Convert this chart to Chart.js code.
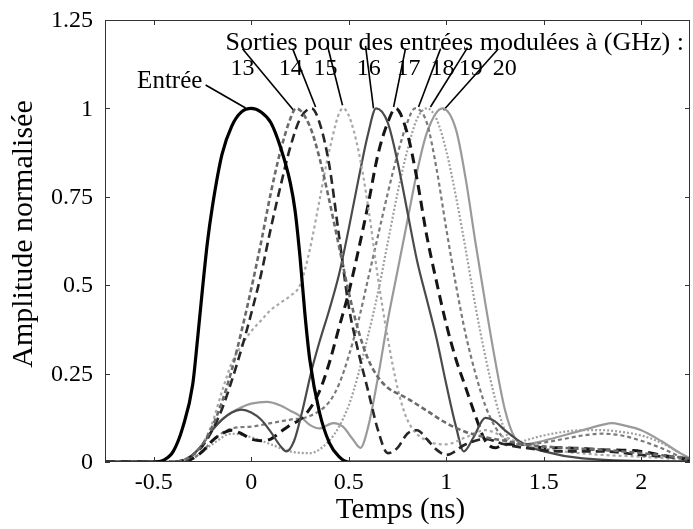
<!DOCTYPE html>
<html><head><meta charset="utf-8">
<script src="https://cdn.jsdelivr.net/npm/chart.js@4"></script>
<style>html,body{margin:0;padding:0;background:#fff}#wrap{width:693px;height:529px}</style>
</head><body><div id="wrap"><canvas id="c" width="693" height="529"></canvas></div>
<script>
// ---- axis ticks ----
const xTicks = [-0.5, 0, 0.5, 1, 1.5, 2];
const yTicks = [0, 0.25, 0.5, 0.75, 1, 1.25];

// ---- input pulse (Entrée) ----
const entreeT = [-0.75,-0.5,-0.45,-0.4,-0.35,-0.3,-0.275,-0.25,-0.225,-0.2,-0.15,-0.1,-0.05,0,0.05,0.1,0.15,0.2,0.225,0.25,0.275,0.3,0.35,0.4,0.45,0.5,2.25];
const entreeV = [0,0,0.005,0.03,0.1,0.22,0.35,0.49,0.62,0.72,0.87,0.95,0.99,1,0.99,0.96,0.89,0.79,0.71,0.58,0.42,0.29,0.14,0.055,0.015,0,0];

// ---- outputs, 13 .. 20 GHz ----
const t13 = [-0.75,-0.4,-0.35,-0.3,-0.25,-0.2,-0.15,-0.1,-0.05,0,0.05,0.1,0.15,0.2,0.23,0.3,0.35,0.4,0.45,0.5,0.55,0.6,0.65,0.7,0.8,0.9,1.0,1.1,1.2,1.3,1.4,1.6,1.8,2.0,2.25];
const v13 = [0,0,0.005,0.02,0.05,0.1,0.17,0.26,0.37,0.49,0.62,0.76,0.88,0.97,1.0,0.95,0.86,0.74,0.61,0.48,0.37,0.29,0.24,0.21,0.18,0.145,0.11,0.085,0.07,0.06,0.05,0.04,0.035,0.025,0.01];

const t14 = [-0.75,-0.4,-0.35,-0.3,-0.25,-0.2,-0.15,-0.1,-0.05,0,0.05,0.1,0.15,0.2,0.25,0.31,0.35,0.4,0.45,0.5,0.55,0.6,0.65,0.7,0.75,0.8,0.85,0.9,0.95,1.0,1.1,1.2,1.3,1.4,1.6,1.8,2.0,2.25];
const v14 = [0,0,0.005,0.02,0.045,0.09,0.15,0.23,0.32,0.42,0.53,0.66,0.78,0.89,0.97,1.0,0.96,0.84,0.64,0.44,0.31,0.2,0.09,0.025,0.04,0.08,0.09,0.065,0.035,0.02,0.05,0.065,0.05,0.04,0.03,0.03,0.02,0.01];

const t15 = [-0.75,-0.4,-0.35,-0.3,-0.25,-0.2,-0.15,-0.1,-0.05,0,0.05,0.1,0.15,0.2,0.25,0.3,0.35,0.4,0.47,0.5,0.55,0.6,0.65,0.7,0.75,0.8,0.9,1.0,1.1,1.2,1.3,1.4,1.6,1.8,2.0,2.25];
const v15 = [0,0,0.005,0.02,0.05,0.11,0.2,0.28,0.33,0.37,0.4,0.43,0.45,0.47,0.5,0.6,0.74,0.88,1.0,0.98,0.88,0.72,0.52,0.35,0.21,0.12,0.06,0.05,0.07,0.09,0.07,0.05,0.03,0.02,0.015,0.005];

const t16 = [-0.75,-0.35,-0.3,-0.25,-0.2,-0.15,-0.1,-0.05,0,0.05,0.1,0.15,0.18,0.22,0.26,0.31,0.35,0.4,0.45,0.5,0.55,0.6,0.64,0.7,0.75,0.8,0.85,0.9,0.95,1.0,1.05,1.09,1.14,1.2,1.25,1.3,1.4,1.5,1.7,2.25];
const v16 = [0,0,0.02,0.05,0.09,0.12,0.14,0.148,0.14,0.12,0.085,0.045,0.03,0.06,0.14,0.26,0.34,0.43,0.53,0.66,0.8,0.93,1.0,0.96,0.85,0.71,0.57,0.46,0.35,0.22,0.1,0.03,0.07,0.125,0.115,0.09,0.05,0.03,0.01,0];

const t17 = [-0.75,-0.35,-0.3,-0.25,-0.2,-0.15,-0.1,-0.05,0,0.05,0.1,0.15,0.2,0.25,0.3,0.35,0.4,0.45,0.5,0.55,0.6,0.65,0.7,0.74,0.8,0.85,0.9,0.95,1.0,1.05,1.1,1.15,1.2,1.25,1.3,1.4,1.5,1.6,1.8,2.0,2.1,2.25];
const v17 = [0,0,0.01,0.03,0.06,0.08,0.09,0.08,0.065,0.06,0.065,0.085,0.105,0.12,0.15,0.2,0.28,0.38,0.48,0.6,0.73,0.87,0.96,1.0,0.93,0.8,0.64,0.51,0.39,0.29,0.21,0.13,0.06,0.04,0.05,0.05,0.04,0.04,0.035,0.03,0.02,0.005];

const t18 = [-0.75,-0.35,-0.3,-0.25,-0.2,-0.1,0,0.1,0.2,0.3,0.4,0.45,0.5,0.55,0.6,0.65,0.7,0.75,0.8,0.84,0.9,0.95,1.0,1.05,1.1,1.15,1.2,1.25,1.3,1.35,1.4,1.5,1.6,1.7,1.8,1.9,2.0,2.1,2.2,2.25];
const v18 = [0,0,0.01,0.03,0.06,0.095,0.1,0.11,0.12,0.13,0.17,0.22,0.3,0.4,0.52,0.64,0.76,0.87,0.96,1.0,0.96,0.83,0.66,0.5,0.36,0.25,0.16,0.1,0.065,0.05,0.05,0.055,0.065,0.075,0.08,0.075,0.06,0.04,0.015,0.005];

const t19 = [-0.75,-0.35,-0.3,-0.2,-0.1,0,0.1,0.2,0.3,0.4,0.45,0.5,0.55,0.6,0.65,0.7,0.75,0.8,0.85,0.9,0.95,1.0,1.05,1.1,1.15,1.2,1.25,1.3,1.35,1.4,1.5,1.6,1.7,1.8,1.9,2.0,2.1,2.2,2.25];
const v19 = [0,0,0.01,0.05,0.08,0.07,0.05,0.03,0.025,0.06,0.1,0.16,0.25,0.36,0.48,0.62,0.76,0.88,0.97,1.0,0.97,0.88,0.75,0.6,0.44,0.3,0.18,0.09,0.05,0.06,0.075,0.085,0.09,0.09,0.085,0.075,0.055,0.025,0.01];

const t20 = [-0.75,-0.35,-0.3,-0.25,-0.2,-0.15,-0.1,-0.05,0,0.08,0.15,0.2,0.25,0.3,0.35,0.42,0.47,0.52,0.56,0.6,0.65,0.7,0.75,0.8,0.85,0.9,0.98,1.05,1.1,1.15,1.2,1.25,1.3,1.35,1.4,1.5,1.6,1.7,1.8,1.85,1.9,2.0,2.1,2.2,2.25];
const v20 = [0,0,0.02,0.05,0.09,0.12,0.14,0.155,0.165,0.17,0.16,0.145,0.13,0.105,0.095,0.11,0.1,0.065,0.04,0.1,0.24,0.4,0.54,0.68,0.82,0.93,1.0,0.94,0.8,0.62,0.45,0.29,0.15,0.07,0.05,0.06,0.075,0.09,0.105,0.11,0.105,0.09,0.06,0.025,0.01];

// ---- annotations (data units) ----
const titleText = 'Sorties pour des entrées modulées à (GHz) :';
const titleT = -0.132, titleV = 1.165;
const freqLabels = ['13','14','15','16','17','18','19','20'];
const freqLabelT = [-0.045, 0.202, 0.381, 0.602, 0.807, 0.981, 1.125, 1.30];
const freqLabelV = 1.094;
const entreeLabel = 'Entrée';
const entreeLabelT = -0.418, entreeLabelV = 1.058;
const leaderFromT = [-0.234,-0.045,0.212,0.391,0.586,0.791,0.971,1.109,1.263];
const leaderFromV = [1.066,1.169,1.169,1.177,1.177,1.169,1.169,1.172,1.166];
const leaderToT = [-0.029,0.217,0.33,0.468,0.627,0.73,0.858,0.919,0.986];
const leaderToV = [1.001,0.995,1.004,1.009,1.0,1.004,1.004,1.004,0.995];

const FONT = "'Liberation Serif', 'Times New Roman', serif";
const pts = (ts, vs) => ts.map((t, i) => ({x: t, y: vs[i]}));

const curve = (label, ts, vs, color, width, dash) => ({
  label, data: pts(ts, vs), borderColor: color, borderWidth: width,
  borderDash: dash, pointRadius: 0, fill: false,
  cubicInterpolationMode: 'monotone', borderCapStyle: 'butt'
});

const datasets = [
  curve('Entrée', entreeT, entreeV, '#000000', 3.2, []),
  curve('13', t13, v13, '#6a6a6a', 2.6, [5, 3]),
  curve('14', t14, v14, '#262626', 2.6, [9, 5]),
  curve('15', t15, v15, '#a8a8a8', 2.2, [3, 3]),
  curve('16', t16, v16, '#4a4a4a', 2.2, []),
  curve('17', t17, v17, '#151515', 3.0, [10, 6]),
  curve('18', t18, v18, '#7a7a7a', 2.2, [4, 3]),
  curve('19', t19, v19, '#a0a0a0', 2.2, [2, 2]),
  curve('20', t20, v20, '#9a9a9a', 2.2, [])
];
leaderFromT.forEach((t, i) => {
  datasets.push({
    label: 'leader' + i,
    data: [{x: t, y: leaderFromV[i]}, {x: leaderToT[i], y: leaderToV[i]}],
    borderColor: '#000', borderWidth: 1.6, pointRadius: 0, tension: 0
  });
});

const framePlugin = {
  id: 'frame',
  afterDatasetsDraw(chart) {
    const {ctx, chartArea: a, scales: {x, y}} = chart;
    ctx.save();
    ctx.strokeStyle = '#333';
    ctx.lineWidth = 1;
    ctx.strokeRect(a.left + 0.5, a.top + 0.5, a.right - a.left - 1, a.bottom - a.top - 1);
    ctx.beginPath();
    const L = 5;
    xTicks.forEach(v => {
      const px = Math.round(x.getPixelForValue(v)) + 0.5;
      ctx.moveTo(px, a.bottom); ctx.lineTo(px, a.bottom - L);
      ctx.moveTo(px, a.top); ctx.lineTo(px, a.top + L);
    });
    yTicks.forEach(v => {
      const py = Math.round(y.getPixelForValue(v)) + 0.5;
      ctx.moveTo(a.left, py); ctx.lineTo(a.left + L, py);
      ctx.moveTo(a.right, py); ctx.lineTo(a.right - L, py);
    });
    ctx.stroke();

    ctx.fillStyle = '#000';
    // tick labels
    ctx.font = '24px ' + FONT;
    ctx.textBaseline = 'middle';
    ctx.textAlign = 'center';
    xTicks.forEach(v => ctx.fillText(String(v), x.getPixelForValue(v), a.bottom + 21));
    ctx.textAlign = 'right';
    yTicks.forEach(v => ctx.fillText(String(v), a.left - 12, y.getPixelForValue(v) + 1));

    // annotations
    ctx.textBaseline = 'alphabetic';
    ctx.font = '26px ' + FONT;
    ctx.textAlign = 'left';
    ctx.fillText(titleText, x.getPixelForValue(titleT), y.getPixelForValue(titleV));
    ctx.font = '24px ' + FONT;
    ctx.textAlign = 'center';
    freqLabels.forEach((s, i) => ctx.fillText(s, x.getPixelForValue(freqLabelT[i]), y.getPixelForValue(freqLabelV)));
    ctx.font = '25px ' + FONT;
    ctx.fillText(entreeLabel, x.getPixelForValue(entreeLabelT), y.getPixelForValue(entreeLabelV));

    // axis titles
    ctx.font = '29px ' + FONT;
    ctx.textAlign = 'center';
    ctx.textBaseline = 'middle';
    ctx.fillText('Temps (ns)', (a.left + a.right) / 2 + 3, a.bottom + 48);
    ctx.save();
    ctx.translate(24, (a.top + a.bottom) / 2 - 7);
    ctx.rotate(-Math.PI / 2);
    ctx.font = '30px ' + FONT;
    ctx.fillText('Amplitude normalisée', 0, 0);
    ctx.restore();
    ctx.restore();
  }
};

new Chart(document.getElementById('c'), {
  type: 'line',
  data: {datasets},
  options: {
    responsive: false, animation: false, devicePixelRatio: 1,
    layout: {padding: {top: 20, right: 3, left: 0, bottom: 0}},
    plugins: {legend: {display: false}, tooltip: {enabled: false}, title: {display: false}},
    scales: {
      x: {
        type: 'linear', min: -0.75, max: 2.25,
        afterBuildTicks: s => { s.ticks = xTicks.map(v => ({value: v})); },
        afterFit: s => { s.height = 67; s.paddingLeft = 0; s.paddingRight = 0; },
        grid: {display: false, drawTicks: false}, border: {display: false},
        ticks: {display: false}
      },
      y: {
        type: 'linear', min: 0, max: 1.25,
        afterBuildTicks: s => { s.ticks = yTicks.map(v => ({value: v})); },
        afterFit: s => { s.width = 105; s.paddingTop = 0; s.paddingBottom = 0; },
        grid: {display: false, drawTicks: false}, border: {display: false},
        ticks: {display: false}
      }
    }
  },
  plugins: [framePlugin]
});
</script>
</body></html>
